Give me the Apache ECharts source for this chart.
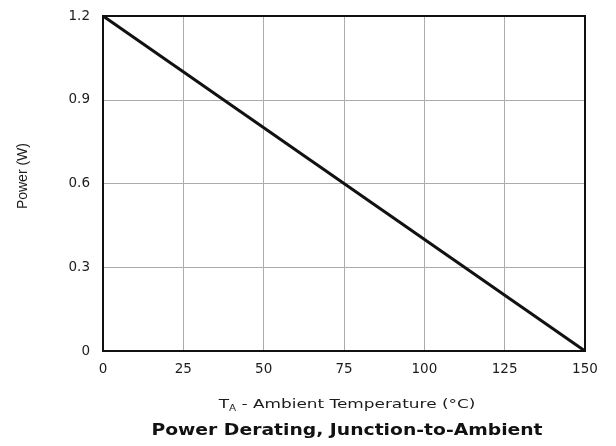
<!DOCTYPE html>
<html>
<head>
<meta charset="utf-8">
<script src="https://cdn.jsdelivr.net/npm/echarts@6/dist/echarts.min.js"></script>
<style>
  html, body { margin: 0; padding: 0; background: #fff; }
  #chart { width: 616px; height: 446px; }
</style>
</head>
<body>
<div id="chart"></div>
<script>
// Derating curve: ambient temperature (°C) vs. allowable power (W)
const temperatures = [0, 150];
const powerWatts = [1.2, 0];
const xTicks = [0, 25, 50, 75, 100, 125, 150];
const yTicks = [0, 0.3, 0.6, 0.9, 1.2];

const FONT = '"DejaVu Sans", Verdana, sans-serif';
const INK = '#1c1c1c';

const chart = echarts.init(document.getElementById('chart'));
chart.setOption({
  animation: false,
  backgroundColor: '#fff',
  grid: { left: 103, right: 31, top: 16, bottom: 95, show: true, borderColor: '#111', borderWidth: 2, z: 3 },
  xAxis: {
    type: 'value',
    min: xTicks[0], max: xTicks[xTicks.length - 1], interval: 25,
    axisLine: { show: false },
    axisTick: { show: false },
    splitLine: { show: true, lineStyle: { color: '#ababab', width: 1 } },
    axisLabel: { color: INK, fontFamily: FONT, fontSize: 13.5, margin: 11 }
  },
  yAxis: {
    type: 'value',
    min: yTicks[0], max: yTicks[yTicks.length - 1], interval: 0.3,
    axisLine: { show: false },
    axisTick: { show: false },
    splitLine: { show: true, lineStyle: { color: '#ababab', width: 1 } },
    axisLabel: {
      color: INK, fontFamily: FONT, fontSize: 13.5, margin: 13,
      formatter: v => (Math.abs(v) < 1e-9 ? '0' : v.toFixed(1))
    }
  },
  graphic: [
    {
      // vertical axis caption
      type: 'text',
      left: 16, top: 143,
      rotation: Math.PI / 2,
      style: { text: 'Power (W)', fontFamily: '"Liberation Sans Narrow", "Liberation Sans", Arial, sans-serif', fontSize: 14, fill: INK }
    },
    {
      // horizontal axis caption with subscript
      type: 'text',
      x: 347, y: 405,
      scaleX: 1.3,
      style: {
        text: '{t|T}{s|A}{t| - Ambient Temperature (°C)}',
        align: 'center', verticalAlign: 'middle',
        rich: {
          t: { fontFamily: FONT, fontSize: 13, fill: INK, color: INK },
          s: { fontFamily: FONT, fontSize: 8, fill: INK, color: INK, verticalAlign: 'bottom', padding: [7, 0, 0, 0] }
        }
      }
    },
    {
      // chart caption
      type: 'text',
      x: 347, y: 431,
      scaleX: 1.25,
      style: {
        text: 'Power Derating, Junction-to-Ambient',
        align: 'center', verticalAlign: 'middle',
        fontFamily: FONT, fontSize: 15, fontWeight: 'bold', fill: '#111'
      }
    }
  ],
  series: [{
    type: 'line',
    data: temperatures.map((t, i) => [t, powerWatts[i]]),
    showSymbol: false,
    lineStyle: { color: '#111', width: 3 },
    z: 4
  }]
});
</script>
</body>
</html>
